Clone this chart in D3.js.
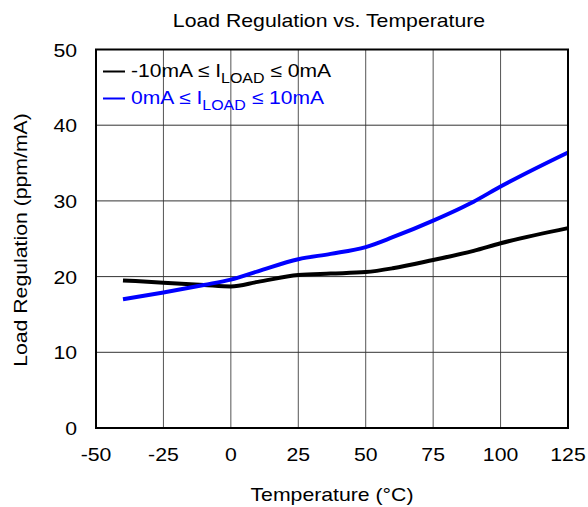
<!DOCTYPE html>
<html><head><meta charset="utf-8">
<script src="https://cdn.jsdelivr.net/npm/d3@7"></script>
<style>body{margin:0;background:#fff;} svg{display:block;font-family:"Liberation Sans",Arial,sans-serif;}</style>
</head><body>
<script>
const xTicks = [-50,-25,0,25,50,75,100,125];
const yTicks = [0,10,20,30,40,50];
const tempsNeg = [-40,-25,-10,0,10,25,37,50,60,75,90,100,125];
const regNeg   = [19.5,19.2,18.9,18.7,19.3,20.2,20.4,20.6,21.1,22.2,23.4,24.4,26.4];
const tempsPos = [-40,-25,-10,0,10,25,37,50,60,75,90,100,125];
const regPos   = [17.0,17.9,18.9,19.6,20.7,22.3,23.0,23.9,25.2,27.4,29.9,31.9,36.4];

const W=588,H=507, SX=1.18, FS=18;
const svg=d3.select("body").append("svg").attr("width",W).attr("height",H);
const x=d3.scaleLinear().domain([-50,125]).range([96,568]);
const y=d3.scaleLinear().domain([0,50]).range([428,49.5]);

function label(px,py,txt,anchor,rot,fs,sx,color){
  const g=svg.append("g").attr("transform",`translate(${px},${py})`+(rot?` rotate(${rot})`:"")+` scale(${sx||SX},1)`);
  return g.append("text").attr("text-anchor",anchor||"middle").attr("font-size",fs||FS).attr("fill",color||"#000").text(txt);
}

// grid
svg.append("g").selectAll("line").data(xTicks.slice(1,-1)).join("line")
  .attr("x1",d=>x(d)).attr("x2",d=>x(d)).attr("y1",y(50)).attr("y2",y(0))
  .attr("stroke","#555").attr("stroke-width",1);
svg.append("g").selectAll("line").data(yTicks.slice(1,-1)).join("line")
  .attr("x1",x(-50)).attr("x2",x(125)).attr("y1",d=>y(d)).attr("y2",d=>y(d))
  .attr("stroke","#333").attr("stroke-width",1);

// tick labels
xTicks.forEach(d=>label(x(d),460.5,String(d),"middle"));
yTicks.forEach(d=>label(77,y(d)+7,String(d),"end"));

const line=d3.line().x(d=>x(d[0])).y(d=>y(d[1])).curve(d3.curveMonotoneX);
svg.append("path").datum(d3.zip(tempsNeg,regNeg)).attr("d",line)
  .attr("fill","none").attr("stroke","#000").attr("stroke-width",4);
svg.append("path").datum(d3.zip(tempsPos,regPos)).attr("d",line)
  .attr("fill","none").attr("stroke","#0000ff").attr("stroke-width",4);

// frame
svg.append("rect").attr("x",x(-50)).attr("y",y(50)).attr("width",x(125)-x(-50)).attr("height",y(0)-y(50))
  .attr("fill","none").attr("stroke","#000").attr("stroke-width",2);

// titles
label(329,27,"Load Regulation vs. Temperature","middle");
label(332,501,"Temperature (°C)","middle");
label(26.5,240,"Load Regulation (ppm/mA)","middle",-90);

// legend
const leg=[{c:"#000",y:77,pre:"-10mA ≤ I",post:" ≤ 0mA"},{c:"#0000ff",y:104,pre:"0mA ≤ I",post:" ≤ 10mA"}];
leg.forEach(l=>{
  svg.append("line").attr("x1",103).attr("x2",125).attr("y1",l.y-5.5).attr("y2",l.y-5.5).attr("stroke",l.c).attr("stroke-width",2);
  const t=label(131,l.y,"","start",0,18.5,1.14,l.c);
  t.append("tspan").text(l.pre);
  t.append("tspan").attr("font-size",14).attr("dy",6).text("LOAD");
  t.append("tspan").attr("dy",-6).text(l.post);
});
</script>
</body></html>
